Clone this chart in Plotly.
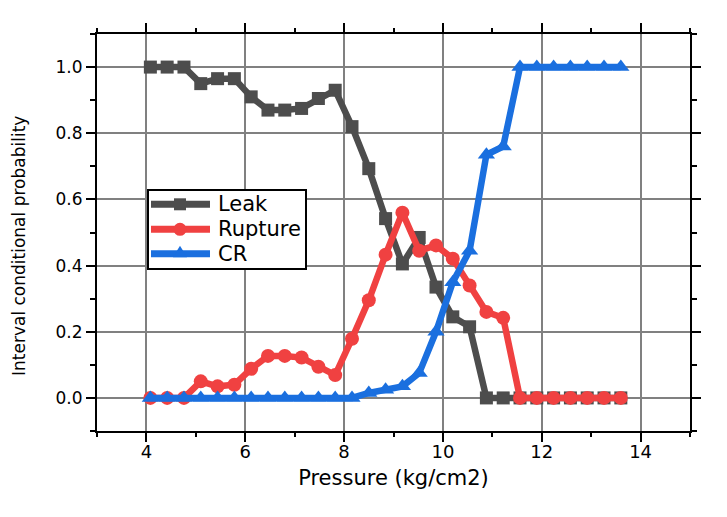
import plotly.graph_objects as go

pressure = [4.08, 4.42, 4.76, 5.10, 5.44, 5.78, 6.12, 6.46, 6.80, 7.14,
            7.48, 7.82, 8.16, 8.50, 8.84, 9.18, 9.52, 9.86, 10.20, 10.54,
            10.88, 11.22, 11.56, 11.90, 12.24, 12.58, 12.92, 13.26, 13.60]

leak = [1.0, 1.0, 1.0, 0.95, 0.965, 0.965, 0.91, 0.87, 0.87, 0.875,
        0.905, 0.93, 0.82, 0.693, 0.542, 0.405, 0.485, 0.335, 0.245, 0.215,
        0.0, 0.0, 0.0, 0.0, 0.0, 0.0, 0.0, 0.0, 0.0]

rupture = [0.0, 0.0, 0.0, 0.05, 0.035, 0.04, 0.088, 0.127, 0.127, 0.122,
           0.094, 0.069, 0.179, 0.295, 0.433, 0.56, 0.445, 0.461, 0.421, 0.34,
           0.26, 0.242, 0.0, 0.0, 0.0, 0.0, 0.0, 0.0, 0.0]

cr = [0.0, 0.0, 0.0, 0.0, 0.0, 0.0, 0.0, 0.0, 0.0, 0.0,
      0.0, 0.0, 0.0, 0.015, 0.025, 0.035, 0.075, 0.2, 0.35, 0.445,
      0.735, 0.76, 1.0, 1.0, 1.0, 1.0, 1.0, 1.0, 1.0]

series_names = ["Leak", "Rupture", "CR"]
series_values = [leak, rupture, cr]
series_colors = ["#4d4d4d", "#f04141", "#1a6fdf"]
series_symbols = ["square", "circle", "triangle-up"]
series_sizes = [13, 14, 15]

x_title = "Pressure (kg/cm2)"
y_title = "Interval conditional probability"

FONT = "DejaVu Sans"

fig = go.Figure()
for name, vals, color, sym, size in zip(series_names, series_values, series_colors,
                                        series_symbols, series_sizes):
    fig.add_trace(go.Scatter(
        x=pressure, y=vals, name=name, mode="lines+markers",
        line=dict(color=color, width=6.5),
        marker=dict(symbol=sym, size=size, color=color),
        showlegend=False,
    ))

axis_common = dict(
    showline=True, linecolor="black", linewidth=2, mirror="allticks",
    ticks="outside", ticklen=9, tickwidth=2, tickcolor="black",
    showgrid=True, gridcolor="#808080", gridwidth=1.6, zeroline=False,
    automargin=False,
)

fig.update_xaxes(
    range=[3, 15], tick0=0, dtick=2,
    minor=dict(dtick=1, ticks="outside", ticklen=4, tickwidth=2,
               tickcolor="black", showgrid=False),
    tickfont=dict(family=FONT, size=18, color="black"),
    ticklabelstandoff=-6,
    title=dict(text=x_title, font=dict(family=FONT, size=21, color="black"),
               standoff=10),
    **axis_common,
)
fig.update_yaxes(
    range=[-0.1, 1.1], tick0=0, dtick=0.2, tickformat=".1f",
    minor=dict(dtick=0.1, ticks="outside", ticklen=5, tickwidth=2,
               tickcolor="black", showgrid=False),
    tickfont=dict(family=FONT, size=17, color="black"),
    **axis_common,
)

# helpers: pixel position -> plot-area fraction
def px_x(p):
    return (p - 97) / 593.0

def px_y(p):
    return (430 - p) / 397.0

annotations = [dict(xref="paper", yref="paper", x=px_x(19), y=px_y(245),
                    xanchor="center", yanchor="middle", showarrow=False,
                    textangle=-90, text=y_title,
                    font=dict(family=FONT, size=17, color="black"))]

# custom legend (box, line samples, marker samples, labels)
shapes = [dict(type="rect", xref="paper", yref="paper",
               x0=px_x(148), x1=px_x(306), y0=px_y(268), y1=px_y(189),
               line=dict(color="black", width=2), fillcolor="white", layer="above")]
row_y = [203.3, 228.3, 252.7]
for name, color, sym, ry in zip(series_names, series_colors, series_symbols, row_y):
    yy = px_y(ry)
    shapes.append(dict(type="line", xref="paper", yref="paper",
                       x0=px_x(151), x1=px_x(210), y0=yy, y1=yy,
                       line=dict(color=color, width=7), layer="above"))
    common = dict(xref="paper", yref="paper", xsizemode="pixel", ysizemode="pixel",
                  xanchor=px_x(180), yanchor=yy, fillcolor=color,
                  line=dict(color=color, width=0), layer="above")
    if sym == "square":
        shapes.append(dict(type="rect", x0=-6, x1=6, y0=-6, y1=6, **common))
    elif sym == "circle":
        shapes.append(dict(type="circle", x0=-6.5, x1=6.5, y0=-6.5, y1=6.5, **common))
    else:
        shapes.append(dict(type="path", path="M -7,-3.5 L 7,-3.5 L 0,8 Z", **common))
    annotations.append(dict(xref="paper", yref="paper", x=px_x(216), y=yy,
                            xanchor="left", yanchor="middle", showarrow=False,
                            text=name, font=dict(family=FONT, size=21, color="black")))

fig.update_layout(
    width=727, height=517,
    margin=dict(l=89, r=45, t=26, b=94),
    paper_bgcolor="white", plot_bgcolor="white",
    showlegend=False,
    shapes=shapes, annotations=annotations,
)

fig.write_html("out.html")
